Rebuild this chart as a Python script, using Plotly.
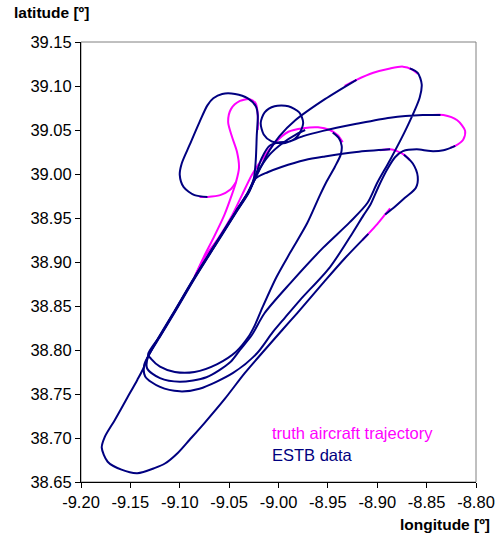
import plotly.graph_objects as go

# ---------------- data (longitude / latitude in degrees) ----------------
x_ticks = [-9.20, -9.15, -9.10, -9.05, -9.00, -8.95, -8.90, -8.85, -8.80]
x_tick_labels = ["-9.20", "-9.15", "-9.10", "-9.05", "-9.00", "-8.95", "-8.90", "-8.85", "-8.80"]
y_ticks = [38.65, 38.70, 38.75, 38.80, 38.85, 38.90, 38.95, 39.00, 39.05, 39.10, 39.15]
y_tick_labels = ["38.65", "38.70", "38.75", "38.80", "38.85", "38.90", "38.95", "39.00", "39.05", "39.10", "39.15"]

# ESTB data (None = no data)
estb_lon = [
    # circuit 1: climb-out, teardrop loop, eastern loop, long return
    -9.132, -9.120, -9.105, -9.085, -9.057, -9.043, -9.031, -9.025, -9.023, -9.022, -9.021,
    -9.023, -9.031, -9.044, -9.057, -9.066, -9.072, -9.080, -9.090, -9.098, -9.100, -9.096, -9.085, -9.072,
    None,
    -9.043, -9.031, -9.023, -9.011, -8.997, -8.973, -8.953, -8.921, -8.887,
    None,
    -8.873, -8.864, -8.859, -8.861, -8.872, -8.884, -8.892,
    None,
    -8.909, -8.933, -8.955, -8.981, -8.996, -9.014, -9.034, -9.054, -9.075, -9.090, -9.102, -9.115,
    -9.125, -9.143, -9.159, -9.173, -9.179, -9.176, -9.166, -9.153, -9.143, -9.136, -9.132,
    # circuit 2
    -9.119, -9.104, -9.084, -9.056, -9.042, -9.030, -9.021, -9.009, -8.996, -8.982, -8.973,
    None,
    -8.945, -8.939, -8.936, -8.937, -8.943, -8.951, -8.958, -8.971, -8.988, -9.002, -9.016, -9.024,
    -9.031, -9.043, -9.062, -9.085, -9.105, -9.120, -9.129, -9.132,
    # circuit 3
    -9.120, -9.105, -9.085, -9.057, -9.043, -9.031, -9.017, -9.009, -8.999, -8.983, -8.953, -8.921,
    None,
    -8.867, -8.859, -8.855, -8.857, -8.870, -8.887, -8.900, -8.910, -8.928, -8.955, -8.988, -9.014,
    -9.027, -9.039, -9.049, -9.073, -9.100, -9.120, -9.133, -9.132,
    # circuit 4: orbit, far-east loop, return
    -9.119, -9.104, -9.084, -9.056, -9.042, -9.030, -9.023, -9.017, -9.009, -8.999, -8.988, -8.980,
    -8.975, -8.979, -8.990, -9.004, -9.014, -9.018, -9.015, -9.007, -8.995, -8.975, -8.955, -8.921,
    -8.887, -8.854, -8.836,
    None,
    -8.821, -8.833, -8.846, -8.860, -8.874, -8.882, -8.890, -8.899, -8.907, -8.914, -8.925, -8.948,
    -8.978, -8.994, -9.006, -9.022, -9.046, -9.080, -9.100, -9.120, -9.135, -9.136, -9.132,
]
estb_lat = [
    38.793, 38.817, 38.845, 38.883, 38.933, 38.958, 38.979, 38.995, 39.016, 39.044, 39.067,
    39.077, 39.086, 39.091, 39.091, 39.086, 39.078, 39.059, 39.033, 39.012, 38.999, 38.985, 38.976, 38.974,
    None,
    38.958, 38.979, 38.995, 39.002, 39.008, 39.016, 39.020, 39.025, 39.028,
    None,
    39.022, 39.012, 38.997, 38.984, 38.973, 38.961, 38.954,
    None,
    38.932, 38.904, 38.876, 38.842, 38.823, 38.800, 38.774, 38.745, 38.717, 38.698, 38.683, 38.671,
    38.666, 38.660, 38.664, 38.673, 38.689, 38.701, 38.720, 38.746, 38.766, 38.781, 38.793,
    38.817, 38.845, 38.883, 38.933, 38.958, 38.979, 39.002, 39.022, 39.035, 39.045, 39.050,
    None,
    39.047, 39.041, 39.032, 39.022, 39.008, 38.992, 38.976, 38.944, 38.911, 38.883, 38.849, 38.828,
    38.814, 38.798, 38.784, 38.775, 38.775, 38.781, 38.790, 38.795,
    38.816, 38.844, 38.882, 38.932, 38.957, 38.978, 39.010, 39.027, 39.043, 39.061, 39.085, 39.107,
    None,
    39.120, 39.115, 39.102, 39.087, 39.053, 39.016, 38.990, 38.967, 38.945, 38.916, 38.876, 38.842,
    38.817, 38.800, 38.786, 38.769, 38.764, 38.768, 38.779, 38.793,
    38.818, 38.846, 38.884, 38.934, 38.959, 38.980, 38.999, 39.018, 39.032, 39.036, 39.037, 39.044,
    39.058, 39.070, 39.077, 39.077, 39.070, 39.058, 39.045, 39.037, 39.035, 39.043, 39.049, 39.057,
    39.064, 39.067, 39.067,
    None,
    39.032, 39.027, 39.026, 39.028, 39.026, 39.019, 39.005, 38.985, 38.965, 38.953, 38.933, 38.894,
    38.857, 38.836, 38.820, 38.796, 38.774, 38.756, 38.753, 38.758, 38.770, 38.783, 38.793,
]

# truth aircraft trajectory (parts not covered by the ESTB track)
truth_lon = [
    -8.933, -8.921, -8.904, -8.887, -8.874, -8.865, -8.859,
    None,
    -8.844, -8.833, -8.819, -8.811, -8.813, -8.821, -8.826,
    None,
    -8.897, -8.887, -8.880, -8.873, -8.867,
    None,
    -8.887, -8.892, -8.900, -8.909, -8.915,
    None,
    -9.085, -9.075, -9.061, -9.047, -9.037, -9.027, -9.017, -9.004, -8.990, -8.975, -8.960, -8.948, -8.940, -8.935,
    None,
    -9.085, -9.076, -9.066, -9.055, -9.048, -9.043, -9.040, -9.042, -9.047, -9.051, -9.048, -9.039, -9.029,
    -9.023, -9.021, -9.021,
    None,
    -9.080, -9.072, -9.059, -9.049, -9.043,
]
truth_lat = [
    39.100, 39.107, 39.115, 39.120, 39.122, 39.119, 39.114,
    None,
    39.067, 39.067, 39.061, 39.049, 39.039, 39.032, 39.030,
    None,
    39.027, 39.028, 39.026, 39.022, 39.016,
    None,
    38.961, 38.954, 38.943, 38.932, 38.925,
    None,
    38.883, 38.905, 38.927, 38.953, 38.976, 38.999, 39.016, 39.035, 39.048, 39.052, 39.053, 39.050, 39.044, 39.036,
    None,
    38.883, 38.905, 38.927, 38.953, 38.974, 38.991, 39.007, 39.025, 39.042, 39.059, 39.074, 39.083, 39.085,
    39.080, 39.067, 39.050,
    None,
    38.974, 38.974, 38.976, 38.982, 38.991,
]

MAGENTA = "#FF00FF"
NAVY = "#000080"
FONT = "Liberation Sans, Arial, sans-serif"

fig = go.Figure()
fig.add_trace(go.Scatter(x=truth_lon, y=truth_lat, mode="lines", name="truth aircraft trajectory",
                         line=dict(color=MAGENTA, width=2, shape="spline", smoothing=0.8),
                         connectgaps=False, hoverinfo="skip"))
fig.add_trace(go.Scatter(x=estb_lon, y=estb_lat, mode="lines", name="ESTB data",
                         line=dict(color=NAVY, width=2, shape="spline", smoothing=0.8),
                         connectgaps=False, hoverinfo="skip"))

axis_common = dict(showgrid=False, zeroline=False, showline=True, linecolor="black", linewidth=1,
                   ticks="outside", ticklen=5, tickcolor="black", tickwidth=1,
                   tickfont=dict(family=FONT, size=16.5, color="black"), fixedrange=True,
                   automargin=False)

fig.update_layout(
    width=500, height=538,
    margin=dict(l=81, r=24, t=42, b=56),
    paper_bgcolor="white", plot_bgcolor="white",
    showlegend=False,
    hovermode=False,
    font=dict(family=FONT, color="black"),
    xaxis=dict(range=[-9.20, -8.80], tickvals=x_ticks, ticktext=x_tick_labels, **axis_common),
    yaxis=dict(range=[38.65, 39.15], tickvals=y_ticks, ticktext=y_tick_labels, **axis_common),
    shapes=[dict(type="rect", xref="x domain", yref="y domain", x0=0, x1=1, y0=0, y1=1,
                 line=dict(color="#808080", width=1), layer="below")],
    annotations=[
        dict(text="<b>latitude [º]</b>", xref="paper", yref="paper", x=-0.175, y=1.043,
             xanchor="left", yanchor="bottom", showarrow=False,
             font=dict(family=FONT, size=15.5, color="black")),
        dict(text="<b>longitude [º]</b>", xref="paper", yref="paper", x=1.04, y=-0.12,
             xanchor="right", yanchor="bottom", showarrow=False,
             font=dict(family=FONT, size=15.5, color="black")),
        dict(text="truth aircraft trajectory", xref="paper", yref="paper", x=0.478, y=0.112,
             xanchor="left", yanchor="middle", showarrow=False,
             font=dict(family=FONT, size=16.5, color=MAGENTA)),
        dict(text="ESTB data", xref="paper", yref="paper", x=0.478, y=0.062,
             xanchor="left", yanchor="middle", showarrow=False,
             font=dict(family=FONT, size=16.5, color=NAVY)),
    ],
)

fig.write_html("out.html", config={"displayModeBar": False, "staticPlot": True},
               post_script="document.body.style.margin='0';document.body.style.overflow='hidden';")
